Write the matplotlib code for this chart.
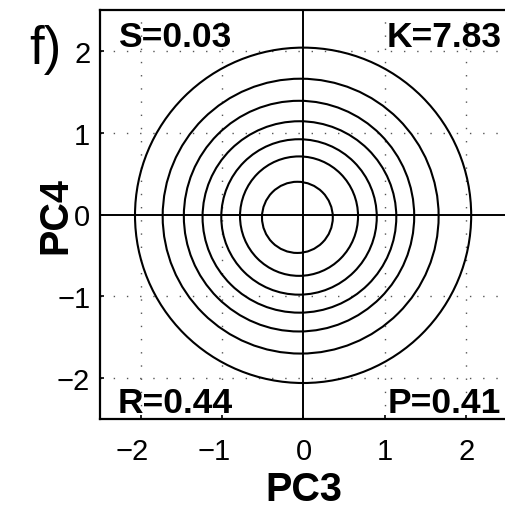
import matplotlib
matplotlib.use("Agg")
import matplotlib.pyplot as plt
import matplotlib.transforms as mtransforms
from matplotlib.patches import Ellipse

plt.rcParams['font.family'] = ['Liberation Sans', 'DejaVu Sans']
plt.rcParams['lines.scale_dashes'] = False

# contour rings: centre and half-widths (PC3, PC4)
ring_cx = [-0.075, -0.055, -0.055, -0.05, -0.055, -0.035, -0.005]
ring_cy = [-0.035, -0.02, -0.03, -0.03, -0.02, -0.02, -0.01]
ring_rx = [0.435, 0.725, 0.955, 1.19, 1.415, 1.695, 2.065]
ring_ry = [0.435, 0.73, 0.95, 1.17, 1.41, 1.68, 2.05]

ticks = [-2, -1, 0, 1, 2]
tick_labels = ['\u22122', '\u22121', '0', '1', '2']

stats = {'S': '0.03', 'K': '7.83', 'R': '0.44', 'P': '0.41'}

fig = plt.figure(figsize=(5.06, 5.10), dpi=100)
ax = fig.add_axes([100 / 506, 1 - 420 / 510, 407 / 506, 409 / 510])
ax.set_xlim(-2.5, 2.5)
ax.set_ylim(-2.5, 2.5)

# dotted grid at the ticks
for t in ticks:
    if t == 0:
        continue
    ax.axvline(t, color='#555555', lw=1.0, ls=(0, (1.0, 8.5)), zorder=1)
    ax.axhline(t, color='#555555', lw=1.0, ls=(0, (1.0, 8.5)), zorder=1)

ax.axvline(0, color='black', lw=1.4, zorder=2)
ax.axhline(0, color='black', lw=1.4, zorder=2)

for cx, cy, rx, ry in zip(ring_cx, ring_cy, ring_rx, ring_ry):
    ax.add_patch(Ellipse((cx, cy), 2 * rx, 2 * ry, fill=False,
                         edgecolor='black', lw=1.5, zorder=3))

ax.set_xticks(ticks)
ax.set_yticks(ticks)
ax.set_xticklabels(tick_labels)
ax.set_yticklabels(tick_labels)
ax.tick_params(axis='both', direction='in', length=3, width=1.2,
               labelsize=21, colors='black')
ax.tick_params(axis='x', pad=13)
ax.tick_params(axis='y', pad=7)

# minus sign hangs to the left, digit sits under the tick
shift = mtransforms.ScaledTranslation(-8.5 / 100, 0, fig.dpi_scale_trans)
for lab, t in zip(ax.get_xticklabels(), ticks):
    if t < 0:
        lab.set_transform(lab.get_transform() + shift)

for side in ['left', 'bottom', 'top']:
    ax.spines[side].set_linewidth(1.6)
ax.spines['right'].set_visible(False)

fig.text(304 / 506, 1 - 501 / 510, 'PC3', fontsize=28.5, fontweight='bold',
         ha='center', va='baseline')
fig.text(66 / 506, 1 - 215 / 510, 'PC4', fontsize=28.5, fontweight='bold',
         ha='center', va='baseline', rotation=90, rotation_mode='anchor')

fs = 25.5
ax.text(-2.28, 2.066, 'S=' + stats['S'], fontsize=fs, fontweight='bold', ha='left', va='baseline')
ax.text(2.43, 2.066, 'K=' + stats['K'], fontsize=fs, fontweight='bold', ha='right', va='baseline')
ax.text(-2.28, -2.42, 'R=' + stats['R'], fontsize=fs, fontweight='bold', ha='left', va='baseline')
ax.text(2.43, -2.42, 'P=' + stats['P'], fontsize=fs, fontweight='bold', ha='right', va='baseline')

fig.text(29 / 506, 1 - 64 / 510, 'f)', fontsize=38, ha='left', va='baseline')

fig.savefig('out.png', dpi=100)
